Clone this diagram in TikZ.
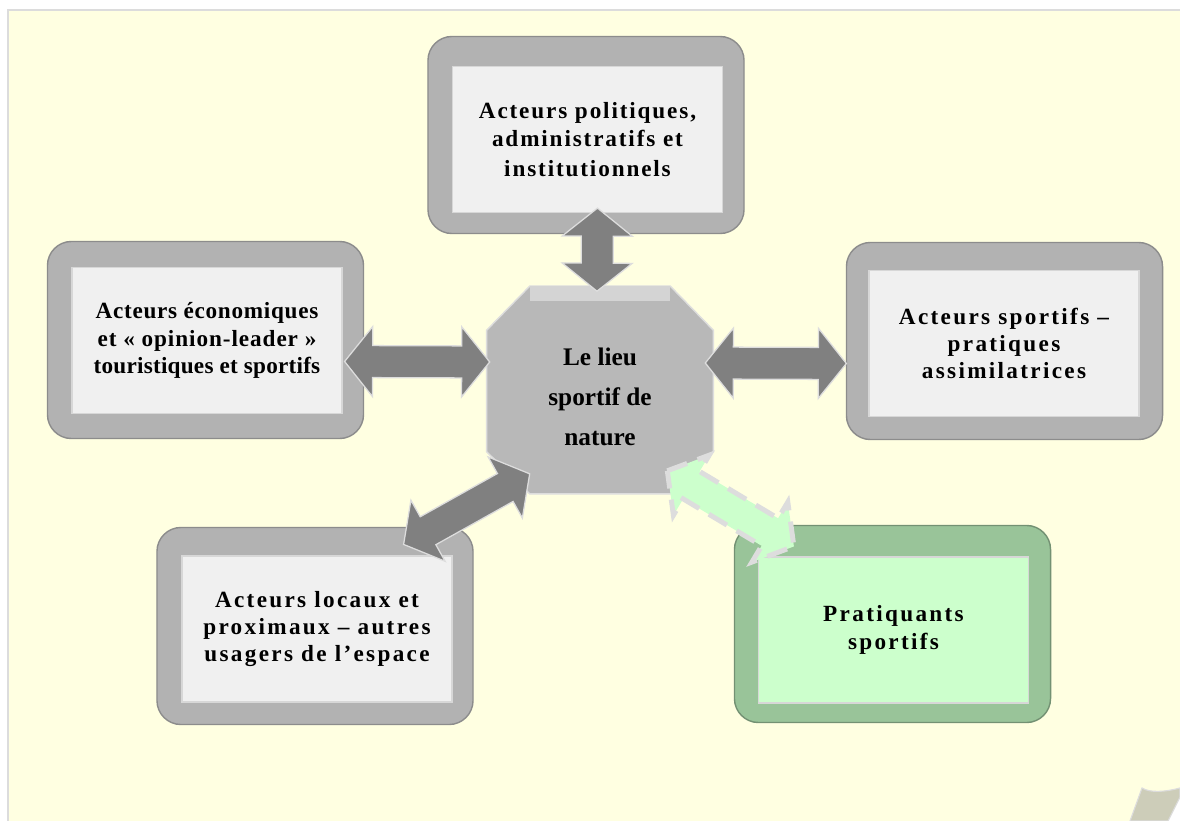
\documentclass[tikz,border=0pt]{standalone}
\usepackage{fontspec}
\setmainfont{Liberation Serif}
\usepackage{xcolor}
\usepackage{tikz}
\usetikzlibrary{positioning,calc}
\definecolor{paper}{RGB}{255,255,225}
\definecolor{paperedge}{RGB}{220,220,220}
\definecolor{curlfill}{RGB}{205,205,185}
\definecolor{framefill}{RGB}{178,178,178}
\definecolor{frameedge}{RGB}{140,140,140}
\definecolor{innerfill}{RGB}{240,240,240}
\definecolor{inneredge}{RGB}{215,215,215}
\definecolor{greenframe}{RGB}{153,196,153}
\definecolor{greenedge}{RGB}{115,145,115}
\definecolor{greeninner}{RGB}{204,255,204}
\definecolor{octfill}{RGB}{184,184,184}
\definecolor{octtop}{RGB}{212,212,212}
\definecolor{arrowfill}{RGB}{128,128,128}
\definecolor{arrowedge}{RGB}{221,221,221}
\newcommand{\boxfont}[1]{\fontsize{16.5pt}{19.5pt}\selectfont\bfseries\addfontfeatures{LetterSpace=#1}}
% fat double arrow between two named points
\newcommand{\dblarrow}[3][]{%
  \draw[#1] (#2)
    -- ($(#2)!0.7cm!(#3)!0.875cm!90:(#3)$)
    -- ($(#2)!0.7cm!(#3)!0.4cm!90:(#3)$)
    -- ($(#3)!0.7cm!(#2)!0.4cm!-90:(#2)$)
    -- ($(#3)!0.7cm!(#2)!0.875cm!-90:(#2)$)
    -- (#3)
    -- ($(#3)!0.7cm!(#2)!0.875cm!90:(#2)$)
    -- ($(#3)!0.7cm!(#2)!0.4cm!90:(#2)$)
    -- ($(#2)!0.7cm!(#3)!0.4cm!-90:(#3)$)
    -- ($(#2)!0.7cm!(#3)!0.875cm!-90:(#3)$)
    -- cycle;}

\begin{document}
\begin{tikzpicture}[x=0.025cm, y=-0.025cm,
  frame/.style={rectangle, rounded corners=0.6cm, fill=framefill, draw=frameedge, line width=1pt,
    minimum width=7.9cm, minimum height=4.925cm},
  inner/.style={rectangle, fill=innerfill, draw=inneredge, line width=0.8pt, align=center,
    minimum width=6.75cm, minimum height=3.65cm},
  grayarrow/.style={fill=arrowfill, draw=arrowedge, line width=0.9pt, line join=miter},
  greenarrow/.style={fill=greeninner, draw=arrowedge, line width=3.5pt, dash pattern=on 15pt off 8pt}]
\useasboundingbox (0,0) rectangle (1180,821);
% paper sheet with curled corner
\fill[white] (0,0) rectangle (1180,821);
\fill[paper] (8,10) -- (1180,10) -- (1180,788) .. controls (1165,792) and (1150,793) .. (1142,788) -- (1130,821) -- (8,821) -- cycle;
\draw[paperedge, line width=1.4pt] (8,821) -- (8,10) -- (1180,10);
\filldraw[fill=curlfill, draw=paperedge, line width=0.8pt] (1130,821) -- (1142,788) .. controls (1150,793) and (1165,792) .. (1180,788) -- (1180,797) -- (1168,821) -- cycle;
% outer frames
\node[frame] (polF) at (586,135) {};
\node[frame] (ecoF) at (205.5,340) {};
\node[frame] (spoF) at (1004.5,341) {};
\node[frame] (locF) at (315,626) {};
\node[frame, fill=greenframe, draw=greenedge] (praF) at (892.5,624) {};
% boxes with text
\node[inner, font=\boxfont{8}] (pol) at ($(polF)+(1.5,4.5)$) {Acteurs politiques,\\ administratifs et\\[2pt] institutionnels};
\node[inner, font=\boxfont{3}] (eco) at ($(ecoF)+(1.5,0.5)$) {Acteurs économiques\\ {\addfontfeatures{LetterSpace=4}et « opinion-leader »}\\ {\addfontfeatures{LetterSpace=1}touristiques et sportifs}};
\node[inner, font=\boxfont{10}] (spo) at ($(spoF)+(-0.5,2.5)$) {Acteurs sportifs –\\ pratiques\\ assimilatrices};
\node[inner, font=\boxfont{10}] (loc) at ($(locF)+(2,3)$) {Acteurs locaux et\\ proximaux – autres\\ usagers de l’espace};
\node[inner, fill=greeninner, font=\boxfont{10}] (pra) at ($(praF)+(1,6)$) {Pratiquants\\ sportifs};
% central place
\node[rectangle, minimum width=5.65cm, minimum height=5.175cm] (lieu) at (600,390) {};
\filldraw[fill=octfill, draw=arrowedge, line width=1pt] ($(lieu.north west)+(43,0)$) -- ($(lieu.north east)+(-43,0)$) -- ($(lieu.north east)+(0,44)$)
  -- ($(lieu.south east)+(0,-42)$) -- ($(lieu.south east)+(-43,0)$) -- ($(lieu.south west)+(43,0)$)
  -- ($(lieu.south west)+(0,-42)$) -- ($(lieu.north west)+(0,44)$) -- cycle;
\fill[octtop] ($(lieu.north)+(-70,0)$) rectangle ($(lieu.north)+(70,15)$);
\node[align=center, font=\fontsize{18pt}{28.5pt}\selectfont\bfseries] (lieuT) at ($(lieu)+(0,7)$) {Le lieu\\ sportif de\\ nature};
% arrow ends
\coordinate (t1) at ($(pol.south)+(10,-5)$);
\coordinate (t2) at ($(lieu.north)+(-3,5)$);
\coordinate (l1) at ($(eco.east)+(2,21)$);
\coordinate (l2) at ($(lieu.west)+(3,-28)$);
\coordinate (r1) at ($(lieu.east)+(-8,-27)$);
\coordinate (r2) at ($(spo.west)+(-22,20)$);
\coordinate (b1) at ($(loc.north east)+(-49,-11)$);
\coordinate (b2) at ($(lieu.south west)+(43,-20)$);
\coordinate (g1) at ($(lieu.south east)+(-46,-23)$);
\coordinate (g2) at ($(pra.north west)+(36,-10)$);
% arrows
\dblarrow[grayarrow]{t1}{t2}
\dblarrow[grayarrow]{l1}{l2}
\dblarrow[grayarrow]{r1}{r2}
\dblarrow[grayarrow]{b1}{b2}
\dblarrow[greenarrow]{g1}{g2}
\end{tikzpicture}
\end{document}
